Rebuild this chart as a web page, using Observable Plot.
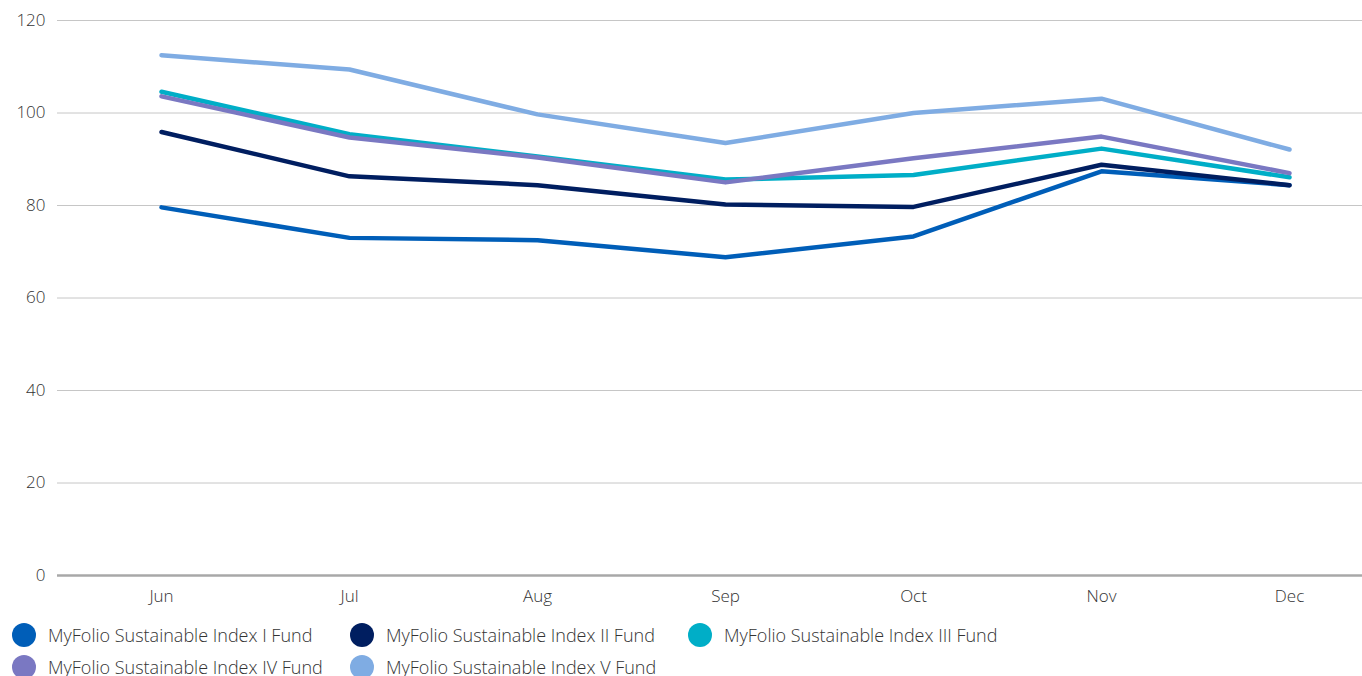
<!DOCTYPE html>
<html><head><meta charset="utf-8">
<script src="https://cdn.jsdelivr.net/npm/d3@7"></script>
<script src="https://cdn.jsdelivr.net/npm/@observablehq/plot@0.6"></script>
<style>
body{margin:0;background:#fff;font-family:"Open Sans",Lato,sans-serif;}
#chart svg{display:block;}
#legend{display:grid;grid-template-columns:338px 338px auto;row-gap:6px;margin-top:12px;padding-left:12px;font-size:18px;color:#333;font-weight:300;}
.item{display:flex;align-items:center;height:26px;white-space:nowrap;}
.dot{width:24px;height:24px;border-radius:50%;margin-right:12px;flex:none;}
</style></head>
<body>
<div id="chart"></div>
<div id="legend"></div>
<script>
const months = ["Jun","Jul","Aug","Sep","Oct","Nov","Dec"];
const seriesNames = ["MyFolio Sustainable Index I Fund","MyFolio Sustainable Index II Fund","MyFolio Sustainable Index III Fund","MyFolio Sustainable Index IV Fund","MyFolio Sustainable Index V Fund"];
const colors = ["#005EB8","#001E60","#00AEC7","#7A78C2","#7FACE3"];
const fundI   = [79.6, 73.0, 72.5, 68.8, 73.3, 87.4, 84.4];
const fundII  = [95.9, 86.3, 84.4, 80.2, 79.7, 88.8, 84.4];
const fundIII = [104.6, 95.4, 90.6, 85.6, 86.6, 92.3, 86.1];
const fundIV  = [103.6, 94.7, 90.4, 85.0, 90.2, 94.9, 87.0];
const fundV   = [112.5, 109.4, 99.7, 93.5, 100.0, 103.1, 92.1];
const yTicks = [0,20,40,60,80,100,120];

const allSeries = [fundI, fundII, fundIII, fundIV, fundV];
const data = [];
allSeries.forEach((vals, i) => vals.forEach((v, j) => data.push({series: seriesNames[i], month: months[j], value: v})));

const plot = Plot.plot({
  width: 1362, height: 610,
  marginLeft: 57, marginRight: 0, marginTop: 20, marginBottom: 35,
  style: {fontFamily: "'Open Sans', Lato, sans-serif", fontSize: "17px", color: "#333", fontWeight: 300},
  x: {type: "point", domain: months, range: [161, 1289], padding: 0, label: null},
  y: {domain: [0, 120], ticks: yTicks, label: null},
  color: {domain: seriesNames, range: colors},
  marks: [
    Plot.ruleY(yTicks.filter(d => d > 0), {stroke: "#c6c6c6", strokeWidth: 1}),
    Plot.ruleY([0], {stroke: "#a8a8a8", strokeWidth: 2.5}),
    Plot.axisY({ticks: yTicks, tickSize: 0, tickPadding: 12, fontSize: 17}),
    Plot.axisX({tickSize: 0, tickPadding: 14, fontSize: 17}),
    Plot.line(data, {x: "month", y: "value", z: "series", stroke: "series", strokeWidth: 4.5, strokeLinecap: "round", strokeLinejoin: "round"})
  ]
});
document.getElementById("chart").appendChild(plot);

const leg = document.getElementById("legend");
seriesNames.forEach((n, i) => {
  const it = document.createElement("div"); it.className = "item";
  const d = document.createElement("span"); d.className = "dot"; d.style.background = colors[i];
  const t = document.createElement("span"); t.textContent = n;
  it.appendChild(d); it.appendChild(t); leg.appendChild(it);
});
</script>
</body></html>
